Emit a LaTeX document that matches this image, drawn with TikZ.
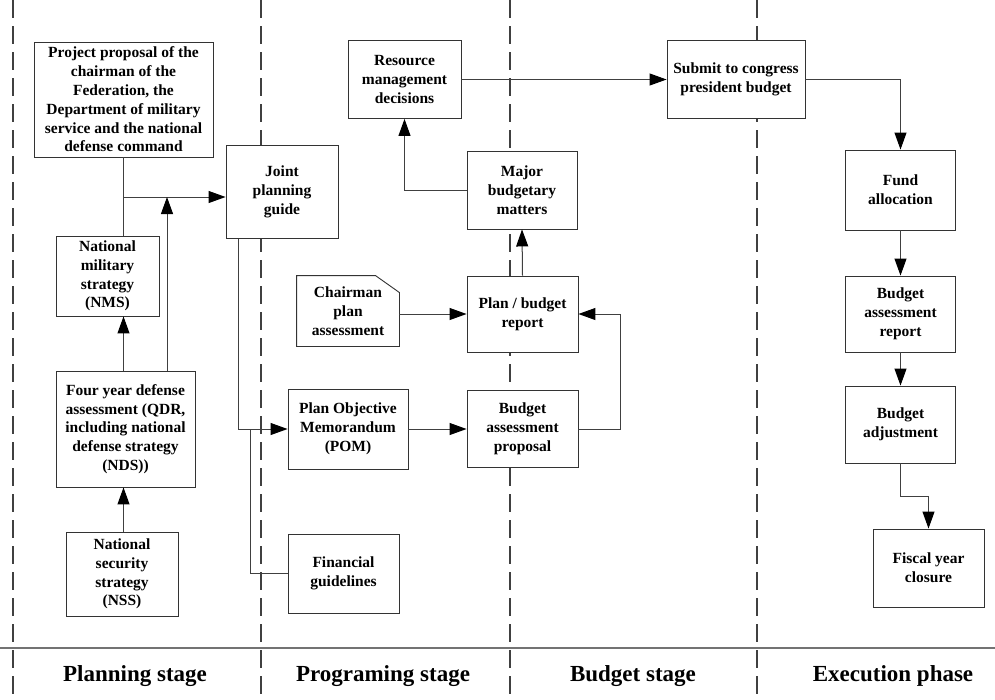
\documentclass[tikz,border=0pt]{standalone}
\usepackage{fontspec}
\setmainfont{Liberation Serif}
\usetikzlibrary{arrows.meta,calc}
\begin{document}
\begin{tikzpicture}[x=1pt,y=-1pt,
  box/.style={draw=black!80,fill=white,line width=0.9pt,align=center,inner sep=0pt,
    font=\bfseries\fontsize{15.5}{18.8}\selectfont},
  line/.style={draw=black!75,line width=1pt},
  arr/.style={line,-{Triangle[length=17pt,width=12pt,fill=black,color=black]}},
  lane/.style={draw=black!75,line width=1.2pt,dash pattern=on 18pt off 8pt},
  stage/.style={font=\bfseries\fontsize{23}{25}\selectfont}]
\useasboundingbox (0,0) rectangle (995,699);
\fill[white] (0,0) rectangle (995,699);
% lanes
\draw[lane] (13,0) -- (13,699);
\draw[lane] (261,0) -- (261,699);
\draw[lane] (510,0) -- (510,699);
\draw[lane] (757,0) -- (757,699);
\draw[draw=black!55,line width=1.6pt] (0,648) -- (995,648);
\node[stage] (s1) at (135,676) {Planning stage};
\node[stage] (s2) at (383,676) {Programing stage};
\node[stage] (s3) at (633,676) {Budget stage};
\node[stage] (s4) at (893,676) {Execution phase};
% nodes
\node[box,minimum width=179pt,minimum height=115pt] (pp) at (123.5,99.5)
  {Project proposal of the\\chairman of the\\Federation, the\\Department of military\\service and the national\\defense command};
\node[box,minimum width=112pt,minimum height=93pt] (jpg) at (282,192) {Joint\\planning\\guide};
\node[box,minimum width=103pt,minimum height=80pt] (nms) at (107.5,276) {National\\military\\strategy\\(NMS)};
\node[box,minimum width=139pt,minimum height=116pt] (qdr) at (125.5,429) {Four year defense\\assessment (QDR,\\including national\\defense strategy\\(NDS))};
\node[box,minimum width=112pt,minimum height=84pt] (nss) at (122,574) {National\\security\\strategy\\(NSS)};
\node[box,minimum width=113pt,minimum height=78pt] (rmd) at (404.5,79.5) {Resource\\management\\decisions};
\node[box,minimum width=138pt,minimum height=78pt] (sub) at (736,79.5) {Submit to congress\\president budget};
\node[box,minimum width=110pt,minimum height=78pt] (mbm) at (522,190) {Major\\budgetary\\matters};
\node[box,draw=none,minimum width=102pt,minimum height=70pt] (cpa) at (348,311) {Chairman\\plan\\assessment};
\draw[draw=black!80,line width=0.9pt] (cpa.north west) -- ([xshift=-24pt]cpa.north east)
  -- ([yshift=-17pt]cpa.north east) -- (cpa.south east) -- (cpa.south west) -- cycle;
\node[box,minimum width=111pt,minimum height=76pt] (pbr) at (522.5,314) {Plan / budget\\report};
\node[box,minimum width=120pt,minimum height=80pt] (pom) at (348,429) {Plan Objective\\Memorandum\\(POM)};
\node[box,minimum width=111pt,minimum height=77pt] (bap) at (522.5,429) {Budget\\assessment\\proposal};
\node[box,minimum width=111pt,minimum height=79pt] (fg) at (343.5,573.5) {Financial\\guidelines};
\node[box,minimum width=110pt,minimum height=80pt] (fa) at (900.5,190) {Fund\\allocation};
\node[box,minimum width=110pt,minimum height=76pt] (bar) at (900.5,314) {Budget\\assessment\\report};
\node[box,minimum width=110pt,minimum height=77pt] (badj) at (900.5,424.5) {Budget\\adjustment};
\node[box,minimum width=111pt,minimum height=78pt] (fyc) at (928.5,568) {Fiscal year\\closure};
% connectors
\coordinate (j1) at (123.5,197);
\draw[line] (pp.south) -- (pp.south |- nms.north);
\draw[arr] (j1) -- (j1 -| jpg.west);
\draw[arr] ([xshift=41.5pt]qdr.north) -- ([xshift=41.5pt]qdr.north |- j1);
\draw[arr] (qdr.north -| pp.south) -- (nms.south -| pp.south);
\draw[arr] (nss.north -| pp.south) -- (qdr.south -| pp.south);
\coordinate (b0) at ([xshift=13pt]jpg.south west);
\coordinate (b2) at (250,429);
\draw[arr] (b0) -- (b0 |- pom.west) -- (pom.west);
\draw[line] (b2) -- (b2 |- fg.west) -- (fg.west);
\draw[arr] (pom.east) -- (bap.west);
\draw[arr] (bap.east) -- ++(42,0) |- (pbr.east);
\draw[arr] (cpa.east |- pbr.west) -- (pbr.west);
\draw[arr] (pbr.north) -- (mbm.south);
\draw[arr] (mbm.west) -| (rmd.south);
\draw[arr] (rmd.east) -- (sub.west);
\draw[arr] (sub.east) -| (fa.north);
\draw[arr] (fa.south) -- (bar.north);
\draw[arr] (bar.south) -- (badj.north);
\draw[arr] (badj.south) -- ++(0,33) -| (fyc.north);
\end{tikzpicture}
\end{document}
